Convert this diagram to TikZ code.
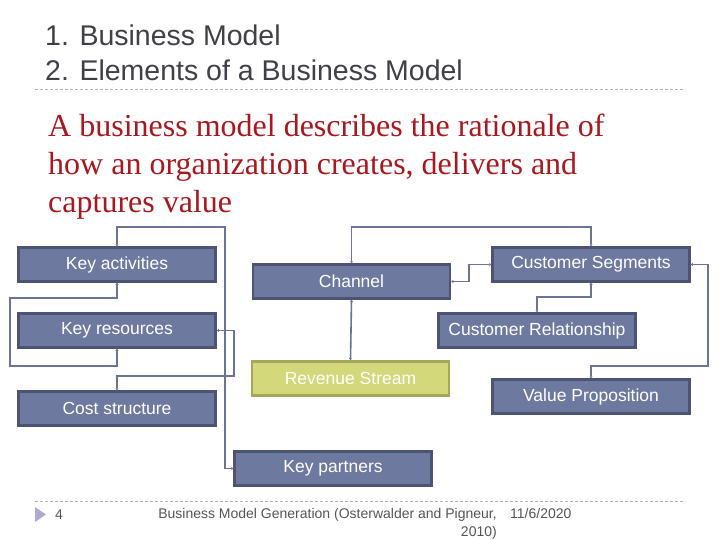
\documentclass[tikz,border=0pt]{standalone}
\usepackage{fontspec}
\setmainfont{Liberation Serif}
\setsansfont{Liberation Sans}
\usepackage{tikz}
\usetikzlibrary{arrows.meta}
\definecolor{boxfill}{HTML}{6E79A0}
\definecolor{boxedge}{HTML}{4D5373}
\definecolor{revfill}{HTML}{D3D87B}
\definecolor{revedge}{HTML}{A3A858}
\definecolor{linkcol}{HTML}{6B7396}
\definecolor{titlegray}{HTML}{404048}
\definecolor{darkred}{HTML}{A8181E}
\definecolor{footgray}{HTML}{555555}
\tikzset{bmbox/.style={draw=boxedge, fill=boxfill, line width=2.5pt, text=white,
  font=\sffamily\fontsize{17.5}{20}\selectfont, minimum width=197pt, minimum height=34pt, inner sep=0pt},
%revenue box is the only yellow one
revbox/.style={bmbox, draw=revedge, fill=revfill},
link/.style={draw=linkcol, line width=1.6pt, {Triangle[length=2pt,width=3pt]}-{Triangle[length=2pt,width=3pt]}},
sepline/.style={draw=black!30, line width=0.8pt, dash pattern=on 3pt off 2pt}}

\begin{document}
\begin{tikzpicture}[x=1pt,y=-1pt]
\useasboundingbox [fill=white] (0,0) rectangle (720,540);
% heading
\node[anchor=base west, text=titlegray, font=\sffamily\fontsize{28.5}{34}\selectfont, inner sep=0pt] (head1) at (45,46) {1. Business Model};
\node[anchor=base west, text=titlegray, font=\sffamily\fontsize{28.5}{34}\selectfont, inner sep=0pt] (head2) at (45,81) {2. Elements of a Business Model};
\draw[sepline] (35,89) -- (685,89);

% definition
\node[anchor=base west, text=darkred, font=\fontsize{32}{38}\selectfont, inner sep=0pt] (def1) at (48,137) {A business model describes the rationale of};
\node[anchor=base west, text=darkred, font=\fontsize{32}{38}\selectfont, inner sep=0pt] (def2) at (48,175) {how an organization creates, delivers and};
\node[anchor=base west, text=darkred, font=\fontsize{32}{38}\selectfont, inner sep=0pt] (def3) at (48,213) {captures value};

% the nine blocks
\node[bmbox] (keyact) at (117,264.5) {Key activities};
\node[bmbox] (keyres) at (117,330.5) {Key resources};
\node[bmbox] (cost) at (117,408.5) {Cost structure};
\node[bmbox] (channel) at (351.5,281.5) {Channel};
\node[revbox] (revenue) at (350.5,378.5) {Revenue Stream};
\node[bmbox] (partners) at (333,468.5) {Key partners};
\node[bmbox] (custseg) at (591,264.5) {Customer Segments};
\node[bmbox] (custrel) at (537,330.5) {Customer Relationship};
\node[bmbox] (valprop) at (591,396.5) {Value Proposition};

% connectors
\draw[link] (keyact.north) |- (225,227) |- (partners.west);
\draw[link] (keyact.south) -- ++(0,15) -| (10,366) -| (keyres.south);
\draw[link] (keyres.east) -| (234,376) -| (cost.north);
\draw[link] (channel.north) -- ++(0,-36) -| (custseg.north);
\draw[link] (channel.east) -- ++(18,0) |- (custseg.west);
\draw[link] (channel.south) -- (revenue.north);
\draw[link] (custseg.south) -- ++(0,14) -| (custrel.north);
\draw[link] (custseg.east) -| (708,366) -| (valprop.north);

% footer
\draw[sepline] (35,501) -- (685,501);
\fill[fill=blue!30!gray!50] (35,507) -- (46,514.5) -- (35,522) -- cycle;
\node[anchor=base west, text=footgray, font=\sffamily\fontsize{14}{17}\selectfont, inner sep=0pt] (page) at (55,519) {4};
\node[anchor=base east, text=footgray, font=\sffamily\fontsize{14}{17}\selectfont, inner sep=0pt] (src1) at (497,518) {Business Model Generation (Osterwalder and Pigneur,};
\node[anchor=base east, text=footgray, font=\sffamily\fontsize{14}{17}\selectfont, inner sep=0pt] (src2) at (497,536) {2010)};
\node[anchor=base west, text=footgray, font=\sffamily\fontsize{14}{17}\selectfont, inner sep=0pt] (date) at (510,518) {11/6/2020};
\end{tikzpicture}
\end{document}
